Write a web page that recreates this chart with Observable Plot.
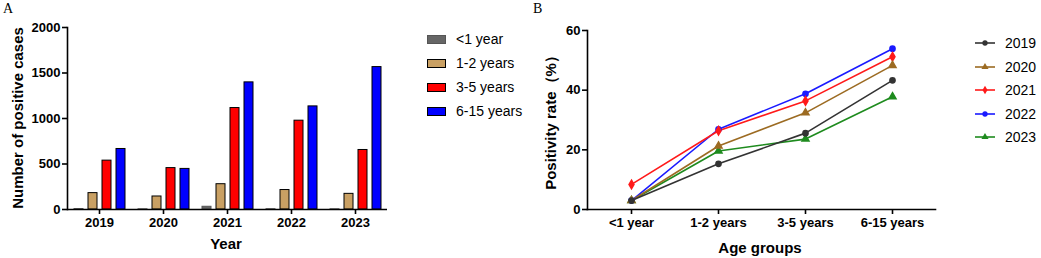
<!DOCTYPE html>
<html>
<head>
<meta charset="utf-8">
<script src="https://cdn.jsdelivr.net/npm/d3@7"></script>
<script src="https://cdn.jsdelivr.net/npm/@observablehq/plot@0.6"></script>
<style>
  body { margin: 0; background: #fff; }
  #root { position: relative; width: 1041px; height: 258px; overflow: hidden; font-family: "Liberation Sans", Arial, sans-serif; color: #000; }
  .abs { position: absolute; }
  .panel { font-family: "Liberation Serif", serif; font-size: 14px; line-height: 16px; }
  .title { font-weight: bold; font-size: 15px; white-space: nowrap; transform: translate(-50%, -50%); }
  .ytitle { font-weight: bold; font-size: 15px; white-space: nowrap; transform: translate(-50%, -50%) rotate(-90deg); }
  .leg { font-size: 14px; display: flex; align-items: center; white-space: nowrap; }
</style>
</head>
<body>
<div id="root"></div>
<script>
// ---------- Data ----------
const years = ["2019", "2020", "2021", "2022", "2023"];
const ageGroups = ["<1 year", "1-2 years", "3-5 years", "6-15 years"];

// Panel A: number of positive cases per year, per age group
const casesLt1 = [5, 2, 30, 3, 2];
const cases1to2 = [180, 143, 278, 214, 172];
const cases3to5 = [537, 455, 1115, 976, 654];
const cases6to15 = [665, 446, 1397, 1133, 1565];
const yTicksA = [0, 500, 1000, 1500, 2000];

// Panel B: positivity rate (%) per age group, per year
const rate2019 = [3.0, 15.3, 25.6, 43.3];
const rate2020 = [3.0, 21.3, 32.4, 48.3];
const rate2021 = [8.4, 26.4, 36.4, 51.2];
const rate2022 = [3.0, 26.9, 38.8, 53.9];
const rate2023 = [3.0, 19.6, 23.6, 37.8];
const yTicksB = [0, 20, 40, 60];

// ---------- Styling ----------
const barColors = ["#666666", "#C9A063", "#FF0000", "#0000FF"];
const barStrokes = ["#555555", "#000000", "#000000", "#000000"];
const lineColors = ["#333333", "#9C6B22", "#FF1A1A", "#1A1AFF", "#1E8B1E"];
const lineSymbols = ["circle", "triangle", "diamond", "circle", "triangle"];

const root = document.getElementById("root");
const baseStyle = {
  fontFamily: '"Liberation Sans", Arial, sans-serif',
  fontSize: "13px",
  fontWeight: "bold",
  color: "#000",
  background: "transparent",
  overflow: "visible"
};

// ---------- Panel A ----------
const caseSeries = [casesLt1, cases1to2, cases3to5, cases6to15];
const tableA = years.flatMap((yr, i) => ageGroups.map((g, j) => ({year: yr, age: g, value: caseSeries[j][i]})));

const chartA = Plot.plot({
  width: 400, height: 258,
  marginLeft: 67, marginRight: 13, marginTop: 27, marginBottom: 49,
  style: baseStyle,
  fx: {domain: years, padding: 0, label: null},
  x: {domain: ageGroups, paddingInner: 0.36, paddingOuter: 0.46, axis: null},
  y: {domain: [0, 2000], label: null, axis: null},
  color: {domain: ageGroups, range: barColors},
  marks: [
    Plot.barY(tableA, {fx: "year", x: "age", y: "value", fill: "age",
      stroke: d => barStrokes[ageGroups.indexOf(d.age)], strokeWidth: 1}),
    Plot.ruleY([0], {stroke: "#000", strokeWidth: 1.6}),
    Plot.frame({anchor: "left", facetAnchor: "left", stroke: "#000", strokeWidth: 1.6}),
    Plot.axisY({ticks: yTicksA, tickFormat: d3.format("d"), tickSize: 5, tickPadding: 2, label: null, strokeWidth: 1.6}),
    Plot.axisFx({anchor: "bottom", tickSize: 5, tickPadding: 3, label: null, strokeWidth: 1.6})
  ]
});
chartA.style.position = "absolute";
chartA.style.left = "0px";
chartA.style.top = "0px";
root.appendChild(chartA);

// ---------- Panel B ----------
const rateSeries = [rate2019, rate2020, rate2021, rate2022, rate2023];
const tableB = years.slice().reverse().flatMap(yr => {
  const s = rateSeries[years.indexOf(yr)];
  return ageGroups.map((g, j) => ({year: yr, age: g, rate: s[j]}));
});

const chartB = Plot.plot({
  width: 420, height: 258,
  marginLeft: 67, marginRight: 5, marginTop: 30, marginBottom: 49,
  style: baseStyle,
  x: {type: "point", domain: ageGroups, padding: 0.5, label: null, axis: null},
  y: {domain: [0, 60], label: null, axis: null},
  color: {domain: years, range: lineColors},
  symbol: {domain: years, range: lineSymbols},
  marks: [
    Plot.frame({anchor: "left", stroke: "#000", strokeWidth: 1.6}),
    Plot.frame({anchor: "bottom", stroke: "#000", strokeWidth: 1.6}),
    Plot.lineY(tableB, {x: "age", y: "rate", z: "year", stroke: "year", strokeWidth: 1.6}),
    Plot.dot(tableB, {x: "age", y: "rate", fill: "year", stroke: "year", symbol: "year", r: 2.6}),
    Plot.axisY({ticks: yTicksB, tickSize: 5, tickPadding: 2, label: null, strokeWidth: 1.6}),
    Plot.axisX({anchor: "bottom", tickSize: 5, tickPadding: 3, label: null, strokeWidth: 1.6})
  ]
});
chartB.style.position = "absolute";
chartB.style.left = "520px";
chartB.style.top = "0px";
root.appendChild(chartB);

// ---------- Text ----------
function addDiv(cls, text, left, top) {
  const d = document.createElement("div");
  d.className = "abs " + cls;
  d.textContent = text;
  d.style.left = left + "px";
  d.style.top = top + "px";
  root.appendChild(d);
  return d;
}
addDiv("panel", "A", 3, 1);
addDiv("panel", "B", 533, 1);
addDiv("ytitle", "Number of positive cases", 17, 118);
addDiv("title", "Year", 226, 243);
addDiv("ytitle", "Positivity rate（%）", 551, 119);
addDiv("title", "Age groups", 760, 247);

// ---------- Legend A ----------
ageGroups.forEach((g, i) => {
  const row = document.createElement("div");
  row.className = "abs leg";
  row.style.left = "427px";
  row.style.top = (39 + i * 24 - 9) + "px";
  row.style.height = "18px";
  const sw = document.createElement("span");
  sw.style.cssText = `display:inline-block;width:17px;height:7px;background:${barColors[i]};border:1px solid ${barStrokes[i]};margin-right:10px;`;
  const tx = document.createElement("span");
  tx.textContent = g;
  row.appendChild(sw);
  row.appendChild(tx);
  root.appendChild(row);
});

// ---------- Legend B ----------
years.forEach((yr, i) => {
  const row = document.createElement("div");
  row.className = "abs leg";
  row.style.left = "975px";
  row.style.top = (43 + i * 23.5 - 9) + "px";
  row.style.height = "18px";
  const sw = d3.create("svg").attr("width", 20).attr("height", 10).style("margin-right", "10px");
  sw.append("line").attr("x1", 0).attr("x2", 20).attr("y1", 5).attr("y2", 5)
    .attr("stroke", lineColors[i]).attr("stroke-width", 1.6);
  sw.append("path").attr("transform", "translate(10,5)")
    .attr("d", d3.symbol(lineSymbols[i] === "triangle" ? d3.symbolTriangle : lineSymbols[i] === "diamond" ? d3.symbolDiamond : d3.symbolCircle, 22)())
    .attr("fill", lineColors[i]);
  const tx = document.createElement("span");
  tx.textContent = yr;
  row.appendChild(sw.node());
  row.appendChild(tx);
  root.appendChild(row);
});
</script>
</body>
</html>
